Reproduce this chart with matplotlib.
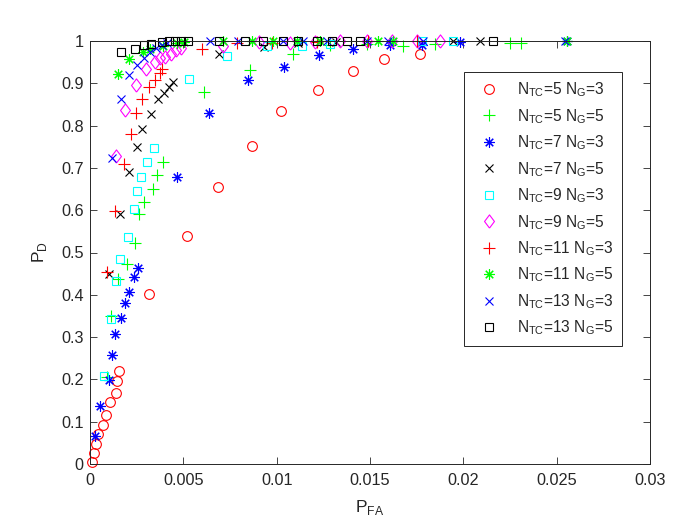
import matplotlib
matplotlib.use("Agg")
import matplotlib.pyplot as plt
import numpy as np

plt.rcParams["font.family"] = ["Liberation Sans", "DejaVu Sans"]
plt.rcParams["mathtext.fontset"] = "custom"
plt.rcParams["mathtext.rm"] = "Liberation Sans"

AXIS_COLOR = "#262626"

# N_TC=5 N_G=3
pfa_tc5_g3 = [0.00012, 0.0002, 0.00032, 0.00044, 0.00071, 0.00084, 0.00107, 0.00138, 0.00145,
              0.00154, 0.00318, 0.00521, 0.00687, 0.0087, 0.01025, 0.01223, 0.01409, 0.01577, 0.01769]
pd_tc5_g3 = [0.005, 0.025, 0.047, 0.071, 0.092, 0.116, 0.146, 0.169, 0.197,
             0.22, 0.402, 0.538, 0.655, 0.751, 0.834, 0.883, 0.928, 0.957, 0.970]

# N_TC=5 N_G=5
pfa_tc5_g5 = [0.00093, 0.00113, 0.0015, 0.002, 0.00241, 0.00263, 0.00291, 0.00339, 0.0036, 0.00393,
              0.00612, 0.00857, 0.01089, 0.01286, 0.01484, 0.01677, 0.01848, 0.02250, 0.0231]
pd_tc5_g5 = [0.205, 0.35, 0.437, 0.472, 0.522, 0.590, 0.619, 0.649, 0.683, 0.713,
             0.879, 0.931, 0.970, 0.990, 0.994, 0.989, 0.993, 0.995, 0.996]

# N_TC=7 N_G=3
pfa_tc7_g3 = [0.00028, 0.00055, 0.001, 0.0012, 0.00136, 0.00168, 0.00185, 0.0021, 0.00234, 0.00259,
              0.00466, 0.00639, 0.00846, 0.0104, 0.01228, 0.01411, 0.01607, 0.01777, 0.01982, 0.02554]
pd_tc7_g3 = [0.066, 0.137, 0.198, 0.258, 0.307, 0.344, 0.381, 0.407, 0.441, 0.464,
             0.679, 0.829, 0.907, 0.938, 0.968, 0.981, 0.991, 0.991, 0.998, 1.0]

# N_TC=7 N_G=5
pfa_tc7_g5 = [0.00104, 0.00163, 0.0021, 0.00253, 0.00281, 0.00325, 0.00362, 0.00394, 0.00425, 0.00447,
              0.00692, 0.00932, 0.01114, 0.0132, 0.01943, 0.0209]
pd_tc7_g5 = [0.448, 0.590, 0.690, 0.749, 0.791, 0.827, 0.862, 0.878, 0.891, 0.903,
             0.970, 0.985, 0.995, 0.997, 1.0, 1.0]

# N_TC=9 N_G=3
pfa_tc9_g3 = [0.00077, 0.00111, 0.00137, 0.00162, 0.00205, 0.00236, 0.00253, 0.00275, 0.00307, 0.00344,
              0.00532, 0.00736, 0.00947, 0.01136, 0.01286, 0.01777, 0.01943]
pd_tc9_g3 = [0.208, 0.342, 0.433, 0.484, 0.537, 0.602, 0.645, 0.679, 0.715, 0.746,
             0.909, 0.965, 0.988, 0.989, 0.993, 1.0, 1.0]

# N_TC=9 N_G=5
pfa_tc9_g5 = [0.00137, 0.00189, 0.00249, 0.00302, 0.00348, 0.00375, 0.00404, 0.00434, 0.00461, 0.00485,
              0.00712, 0.00905, 0.01071, 0.01205, 0.01339, 0.01484, 0.01618, 0.01752, 0.01875]
pd_tc9_g5 = [0.728, 0.837, 0.897, 0.933, 0.950, 0.959, 0.963, 0.970, 0.978, 0.983,
             0.988, 0.998, 0.996, 0.998, 1.0, 1.0, 1.0, 1.0, 1.0]

# N_TC=11 N_G=3
pfa_tc11_g3 = [0.00091, 0.00136, 0.00184, 0.00221, 0.00244, 0.00281, 0.00318, 0.00348, 0.00373, 0.00386,
               0.00602, 0.00786, 0.00975, 0.01214, 0.01489, 0.0175]
pd_tc11_g3 = [0.453, 0.598, 0.709, 0.780, 0.829, 0.863, 0.891, 0.908, 0.924, 0.933,
              0.981, 0.995, 0.995, 0.998, 1.0, 1.0]

# N_TC=11 N_G=5
pfa_tc11_g5 = [0.0015, 0.0021, 0.00282, 0.00321, 0.00391, 0.00466, 0.00501, 0.00714, 0.00866, 0.00982,
               0.01107, 0.01232, 0.01543, 0.01623, 0.02558]
pd_tc11_g5 = [0.922, 0.958, 0.973, 0.980, 0.987, 0.996, 0.998, 0.999, 0.999, 0.999,
              0.999, 0.999, 1.0, 1.0, 1.0]

# N_TC=13 N_G=3
pfa_tc13_g3 = [0.00119, 0.00164, 0.00211, 0.0025, 0.0029, 0.00323, 0.00355, 0.00386, 0.00414, 0.00643,
               0.00794, 0.01034, 0.01141, 0.0127, 0.01484, 0.01596, 0.01784, 0.02547]
pd_tc13_g3 = [0.723, 0.862, 0.919, 0.943, 0.960, 0.973, 0.983, 0.990, 0.996, 0.999,
              0.999, 0.999, 0.999, 0.999, 1.0, 1.0, 1.0, 1.0]

# N_TC=13 N_G=5
pfa_tc13_g5 = [0.00166, 0.00241, 0.00291, 0.00328, 0.00384, 0.00421, 0.00454, 0.00489, 0.00523, 0.00692,
               0.00829, 0.00928, 0.01036, 0.01116, 0.01214, 0.01296, 0.01375, 0.01446, 0.0216]
pd_tc13_g5 = [0.973, 0.981, 0.991, 0.992, 0.998, 1.0, 1.0, 1.0, 1.0, 1.0,
              1.0, 1.0, 1.0, 1.0, 1.0, 1.0, 1.0, 1.0, 1.0]

labels = [
    r"N$_{\mathregular{TC}}$=5 N$_{\mathregular{G}}$=3",
    r"N$_{\mathregular{TC}}$=5 N$_{\mathregular{G}}$=5",
    r"N$_{\mathregular{TC}}$=7 N$_{\mathregular{G}}$=3",
    r"N$_{\mathregular{TC}}$=7 N$_{\mathregular{G}}$=5",
    r"N$_{\mathregular{TC}}$=9 N$_{\mathregular{G}}$=3",
    r"N$_{\mathregular{TC}}$=9 N$_{\mathregular{G}}$=5",
    r"N$_{\mathregular{TC}}$=11 N$_{\mathregular{G}}$=3",
    r"N$_{\mathregular{TC}}$=11 N$_{\mathregular{G}}$=5",
    r"N$_{\mathregular{TC}}$=13 N$_{\mathregular{G}}$=3",
    r"N$_{\mathregular{TC}}$=13 N$_{\mathregular{G}}$=5",
]

diamond = [(0, -1), (0.75, 0), (0, 1), (-0.75, 0), (0, -1)]
asterisk = (8, 2, 0)

styles = [
    ("o", "#FF0000", 7.0),
    ("+", "#00FF00", 8.0),
    (asterisk, "#0000FF", 7.5),
    ("x", "#000000", 5.5),
    ("s", "#00FFFF", 6.0),
    (diamond, "#FF00FF", 9.5),
    ("+", "#FF0000", 8.0),
    (asterisk, "#00FF00", 7.5),
    ("x", "#0000FF", 5.5),
    ("s", "#000000", 6.0),
]

series = [
    (pfa_tc5_g3, pd_tc5_g3),
    (pfa_tc5_g5, pd_tc5_g5),
    (pfa_tc7_g3, pd_tc7_g3),
    (pfa_tc7_g5, pd_tc7_g5),
    (pfa_tc9_g3, pd_tc9_g3),
    (pfa_tc9_g5, pd_tc9_g5),
    (pfa_tc11_g3, pd_tc11_g3),
    (pfa_tc11_g5, pd_tc11_g5),
    (pfa_tc13_g3, pd_tc13_g3),
    (pfa_tc13_g5, pd_tc13_g5),
]

fig = plt.figure(figsize=(7, 5.25), dpi=100)
ax = fig.add_axes([90 / 700, 61 / 525, 560 / 700, 423 / 525])

for (xs, ys), (marker, color, ms), label in zip(series, styles, labels):
    ax.plot(xs, ys, linestyle="none", marker=marker, markersize=ms,
            markerfacecolor="none", markeredgecolor=color, markeredgewidth=0.8,
            label=label, clip_on=False)

ax.set_xlim(0, 0.03)
ax.set_ylim(0, 1)
ax.set_xticks(np.arange(0, 0.0301, 0.005))
ax.set_xticklabels(["0", "0.005", "0.01", "0.015", "0.02", "0.025", "0.03"])
ax.set_yticks(np.arange(0, 1.01, 0.1))
ax.set_yticklabels(["0", "0.1", "0.2", "0.3", "0.4", "0.5", "0.6", "0.7", "0.8", "0.9", "1"])

ax.tick_params(direction="in", length=5, width=0.6, top=True, right=True,
               labelsize=11.7, colors=AXIS_COLOR)
ax.tick_params(axis="x", pad=6.5)
ax.tick_params(axis="y", pad=4.5)
for sp in ax.spines.values():
    sp.set_linewidth(0.7)
    sp.set_color(AXIS_COLOR)

ax.set_xlabel(r"P$_{\mathregular{FA}}$", fontsize=12.5, color=AXIS_COLOR, labelpad=7)
ax.set_ylabel(r"P$_{\mathregular{D}}$", fontsize=12.5, color=AXIS_COLOR, labelpad=9)

leg = ax.legend(loc="upper left", bbox_to_anchor=(0.668, 0.927), fontsize=11.2,
                frameon=True, fancybox=False, framealpha=1, edgecolor=AXIS_COLOR,
                handlelength=2.1, handletextpad=0.75, labelspacing=0.5,
                borderpad=0.55, borderaxespad=0, numpoints=1)
leg.get_frame().set_linewidth(0.7)
for t in leg.get_texts():
    t.set_color(AXIS_COLOR)

fig.savefig("out.png", dpi=100)
